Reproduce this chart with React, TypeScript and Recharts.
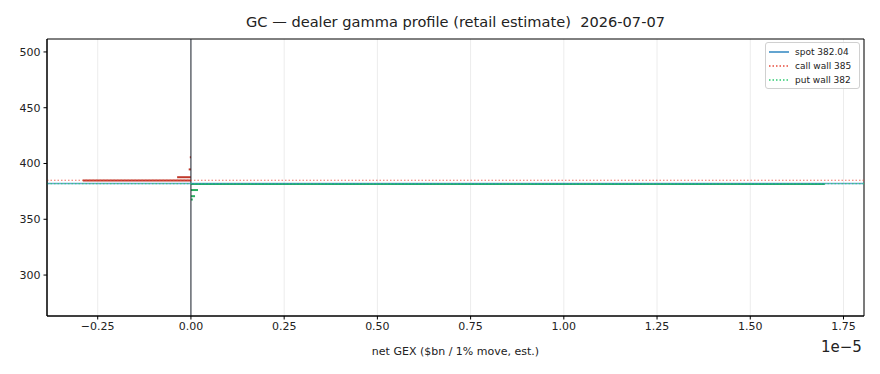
import React from "react";
import {
  ComposedChart,
  Bar,
  Cell,
  XAxis,
  YAxis,
  CartesianGrid,
  ReferenceLine,
  ReferenceArea,
} from "recharts";

// net GEX per strike, in units of 1e-5 ($bn / 1% move)
const strikes = [406, 395, 388, 385, 382, 376.5, 371, 368];
const netGex = [-0.003, -0.006, -0.037, -0.29, 1.70, 0.019, 0.011, 0.005];
const xTicks = [-0.25, 0, 0.25, 0.5, 0.75, 1.0, 1.25, 1.5, 1.75];
const yTicks = [300, 350, 400, 450, 500];
const spot = 382.04;
const callWall = 385;
const putWall = 382;
const xDomain: [number, number] = [-0.386, 1.805];
const yDomain: [number, number] = [263.3, 511.6];

const data = strikes.map((s, i) => ({ strike: s, gex: netGex[i] }));

const FONT = "DejaVu Sans";
const RED = "#c0392b";
const GREEN = "#27ae60";
const BLUE = "#2f86c0";

export default function App() {
  return (
    <div style={{ position: "absolute", left: 0, top: 0, width: 880, height: 374, background: "#fff", fontFamily: FONT }}>
      <div
        style={{
          position: "absolute",
          left: 47,
          width: 817,
          top: 13,
          textAlign: "center",
          fontSize: 14.6,
          color: "#222",
          whiteSpace: "pre",
        }}
      >
        {"GC — dealer gamma profile (retail estimate)  2026-07-07"}
      </div>
      <ComposedChart
        width={880}
        height={374}
        data={data}
        layout="vertical"
        margin={{ top: 39, right: 16, bottom: 0, left: 0 }}
      >
        <CartesianGrid horizontal={false} stroke="#ececec" strokeWidth={1} />
        <XAxis
          type="number"
          dataKey="gex"
          domain={xDomain}
          ticks={xTicks}
          allowDataOverflow
          height={58}
          tickFormatter={(v: number) => (v < 0 ? "−" : "") + Math.abs(v).toFixed(2)}
          tick={{ fontSize: 11, fill: "#222", fontFamily: FONT }}
          tickSize={3.5}
          tickMargin={3}
          stroke="#000"
          label={{ value: "net GEX ($bn / 1% move, est.)", position: "insideBottom", offset: 19, fontSize: 11, fill: "#222", fontFamily: FONT }}
        />
        <YAxis
          type="number"
          dataKey="strike"
          domain={yDomain}
          ticks={yTicks}
          reversed
          allowDataOverflow
          width={47}
          tick={{ fontSize: 11, fill: "#222", fontFamily: FONT }}
          tickSize={3.5}
          tickMargin={3}
          stroke="#000"
        />
        <ReferenceArea x1={xDomain[0]} x2={xDomain[1]} y1={yDomain[0]} y2={yDomain[1]} fill="none" stroke="#000" strokeWidth={1} />
        <ReferenceLine x={0} stroke="#1e2530" strokeWidth={1} />
        <Bar dataKey="gex" barSize={2} isAnimationActive={false}>
          {data.map((d, i) => (
            <Cell key={i} fill={d.gex < 0 ? RED : GREEN} />
          ))}
        </Bar>
        <ReferenceLine y={spot} stroke={BLUE} strokeOpacity={0.75} strokeWidth={1.5} />
        <ReferenceLine y={callWall} stroke="#e74c3c" strokeOpacity={0.8} strokeWidth={1.2} strokeDasharray="1.5 2" />
        <ReferenceLine y={putWall} stroke="#2ecc71" strokeOpacity={0.8} strokeWidth={1.2} strokeDasharray="1.5 2" />
      </ComposedChart>
      <div style={{ position: "absolute", left: 821, top: 338, fontSize: 15, color: "#222" }}>1e−5</div>
      <div
        style={{
          position: "absolute",
          left: 765,
          top: 42,
          width: 95,
          height: 47,
          border: "1px solid #d0d0d0",
          borderRadius: 3,
          background: "rgba(255,255,255,0.8)",
          fontSize: 9,
          color: "#222",
          boxSizing: "border-box",
        }}
      >
        {[
          { label: "spot 382.04", color: BLUE, dash: undefined as string | undefined },
          { label: "call wall 385", color: "#e74c3c", dash: "1.5 2" },
          { label: "put wall 382", color: "#2ecc71", dash: "1.5 2" },
        ].map((e, i) => (
          <div key={i} style={{ position: "absolute", left: 3, top: 3 + i * 14, height: 12, display: "flex", alignItems: "center", whiteSpace: "nowrap" }}>
            <svg width={20} height={12} style={{ marginRight: 6 }}>
              <line x1={0} x2={20} y1={6} y2={6} stroke={e.color} strokeWidth={1.5} strokeDasharray={e.dash} />
            </svg>
            <span>{e.label}</span>
          </div>
        ))}
      </div>
    </div>
  );
}
